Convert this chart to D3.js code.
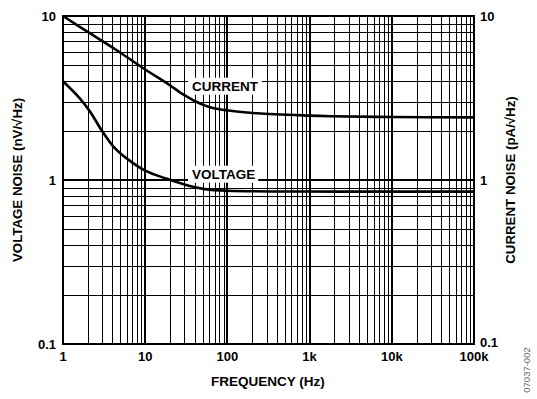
<!DOCTYPE html>
<html>
<head>
<meta charset="utf-8">
<script src="https://cdn.jsdelivr.net/npm/d3@7"></script>
<style>
  body { margin: 0; background: #fff; }
  text { font-family: "Liberation Sans", Arial, sans-serif; font-weight: bold; }
</style>
</head>
<body>
<div id="chart"></div>
<script>
// frequency (Hz) vs noise
const currentFreq  = [1, 2, 5, 10, 20, 27, 35, 42, 50, 60, 80, 100, 230, 1000, 1800, 10000, 100000];
const currentNoise = [10, 8.0, 5.97, 4.72, 3.78, 3.4, 3.15, 3.0, 2.88, 2.79, 2.7, 2.66, 2.55, 2.47, 2.45, 2.42, 2.41];

const voltageFreq  = [1, 1.6, 2.13, 2.95, 4.1, 6, 10, 18, 33, 53, 100, 1000, 10000, 100000];
const voltageNoise = [4.0, 3.15, 2.62, 2.01, 1.6, 1.35, 1.14, 1.02, 0.925, 0.88, 0.86, 0.85, 0.85, 0.85];

const xTickValues = [1, 10, 100, 1000, 10000, 100000];
const xTickLabels = ['1', '10', '100', '1k', '10k', '100k'];
const yTickValues = [0.1, 1, 10];
const yTickLabels = ['0.1', '1', '10'];

const W = 537, H = 399;
const m = { left: 63, right: 63, top: 16, bottom: 55 };
const pw = W - m.left - m.right, ph = H - m.top - m.bottom;

const svg = d3.select('#chart').append('svg')
    .attr('width', W).attr('height', H);
const g = svg.append('g').attr('transform', `translate(${m.left},${m.top})`);

const x = d3.scaleLog().domain([1, 100000]).range([0, pw]);
const y = d3.scaleLog().domain([0.1, 10]).range([ph, 0]);

const isMajor = v => Math.abs(Math.log10(v) - Math.round(Math.log10(v))) < 1e-9;

// grid
const grid = g.append('g').attr('shape-rendering', 'crispEdges');
x.ticks().forEach(v => {
    grid.append('line')
        .attr('x1', Math.round(x(v)) + (isMajor(v) ? 0 : 0.5))
        .attr('x2', Math.round(x(v)) + (isMajor(v) ? 0 : 0.5))
        .attr('y1', 0).attr('y2', ph)
        .attr('stroke', '#000')
        .attr('stroke-width', isMajor(v) ? 2 : 1);
});
y.ticks().forEach(v => {
    grid.append('line')
        .attr('y1', Math.round(y(v)) + (isMajor(v) ? 0 : 0.5))
        .attr('y2', Math.round(y(v)) + (isMajor(v) ? 0 : 0.5))
        .attr('x1', 0).attr('x2', pw)
        .attr('stroke', '#000')
        .attr('stroke-width', isMajor(v) ? 2 : 1);
});

// curve labels with white boxes
function boxLabel(txt, lx, ly) {
    const lg = g.append('g');
    const t = lg.append('text')
        .attr('x', lx).attr('y', ly)
        .attr('dy', '0.35em')
        .style('font-size', '13.5px')
        .text(txt);
    const b = t.node().getBBox();
    lg.insert('rect', 'text')
        .attr('x', b.x - 4).attr('y', b.y - 1)
        .attr('width', b.width + 7).attr('height', b.height + 2)
        .attr('fill', '#fff');
}
boxLabel('CURRENT', 192 - m.left, 86 - m.top);
boxLabel('VOLTAGE', 192 - m.left, 174 - m.top);

// curves
const line = d3.line()
    .x(d => x(d[0])).y(d => y(d[1]))
    .curve(d3.curveCatmullRom.alpha(0.5));

g.append('path')
    .datum(currentFreq.map((f, i) => [f, currentNoise[i]]))
    .attr('d', line)
    .attr('fill', 'none').attr('stroke', '#000').attr('stroke-width', 2.6);

g.append('path')
    .datum(voltageFreq.map((f, i) => [f, voltageNoise[i]]))
    .attr('d', line)
    .attr('fill', 'none').attr('stroke', '#000').attr('stroke-width', 2.6);

// frame
g.append('rect')
    .attr('x', 0).attr('y', 0).attr('width', pw).attr('height', ph)
    .attr('fill', 'none').attr('stroke', '#000').attr('stroke-width', 2)
    .attr('shape-rendering', 'crispEdges');

// tick labels
const fs = '13px';
g.selectAll('.xt').data(xTickValues).enter().append('text')
    .attr('x', d => x(d)).attr('y', ph + 17)
    .attr('text-anchor', 'middle')
    .style('font-size', fs)
    .text((d, i) => xTickLabels[i]);

g.selectAll('.yl').data(yTickValues).enter().append('text')
    .attr('x', -7).attr('y', d => y(d))
    .attr('dy', '0.35em')
    .attr('text-anchor', 'end')
    .style('font-size', fs)
    .text((d, i) => yTickLabels[i]);

g.selectAll('.yr').data(yTickValues).enter().append('text')
    .attr('x', pw + 6).attr('y', d => y(d) - (d === 0.1 ? 2 : 0))
    .attr('dy', '0.35em')
    .attr('text-anchor', 'start')
    .style('font-size', fs)
    .text((d, i) => yTickLabels[i]);

// axis titles
svg.append('text')
    .attr('x', 268).attr('y', 386)
    .attr('text-anchor', 'middle')
    .style('font-size', '13.5px')
    .text('FREQUENCY (Hz)');

svg.append('text')
    .attr('transform', `translate(22,${m.top + ph / 2}) rotate(-90)`)
    .attr('text-anchor', 'middle')
    .style('font-size', '13.3px')
    .text('VOLTAGE NOISE (nV/\u221AHz)');

svg.append('text')
    .attr('transform', `translate(515,${m.top + ph / 2}) rotate(-90)`)
    .attr('text-anchor', 'middle')
    .style('font-size', '13.3px')
    .text('CURRENT NOISE (pA/\u221AHz)');

svg.append('text')
    .attr('transform', 'translate(530,370) rotate(-90)')
    .attr('text-anchor', 'middle')
    .style('font-size', '9.5px')
    .style('font-weight', 'normal')
    .attr('fill', '#666')
    .text('07037-002');
</script>
</body>
</html>
